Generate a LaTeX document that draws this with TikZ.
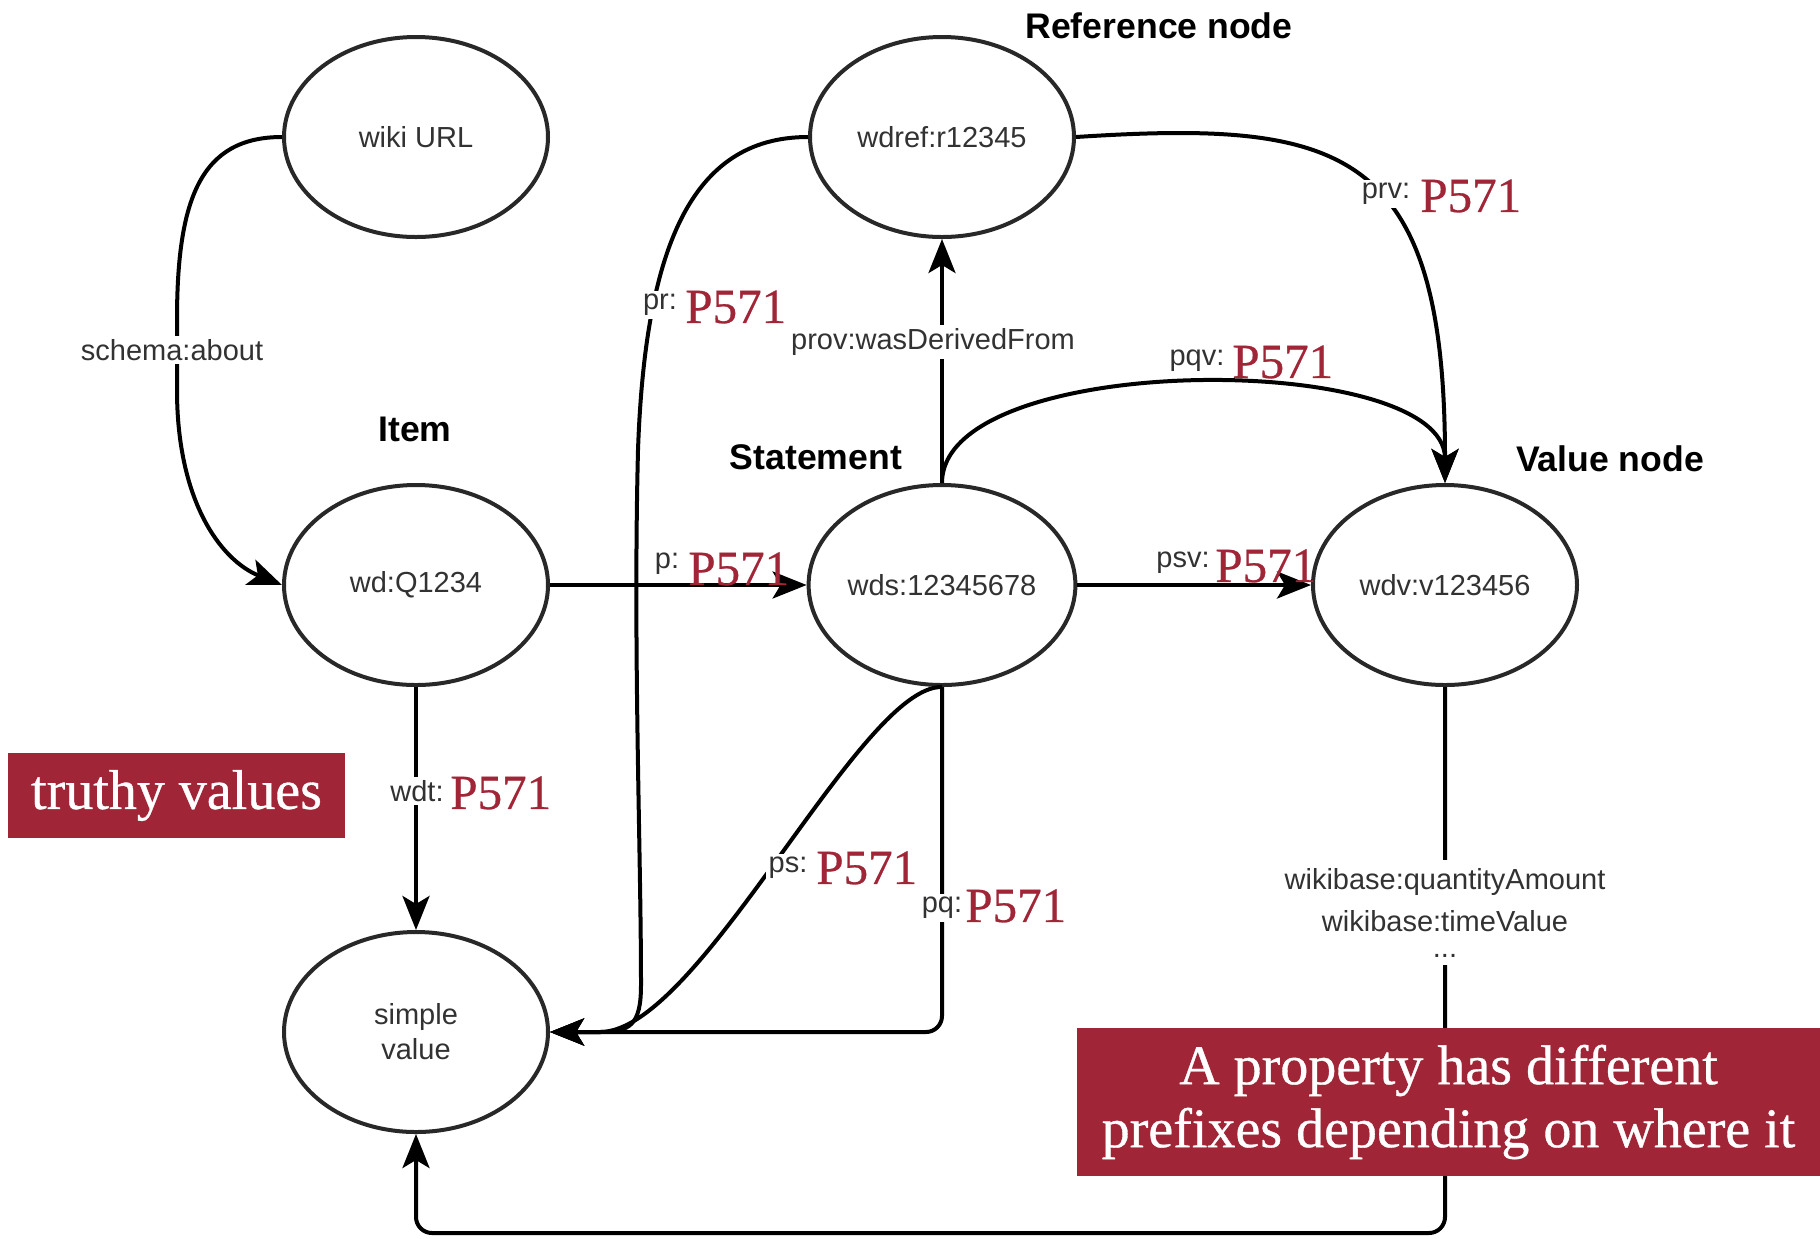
\documentclass[tikz,border=0pt]{standalone}
\usepackage{fontspec}
\setmainfont{Liberation Sans}
\newfontfamily\serifred[FakeBold=0.6]{Liberation Serif}
\usetikzlibrary{arrows.meta,shapes.geometric}
\definecolor{wred}{RGB}{160,37,55}
\definecolor{tgray}{RGB}{50,50,50}
\definecolor{ellgray}{RGB}{40,40,40}
\begin{document}
\begin{tikzpicture}[x=0.5pt,y=-0.5pt,
  ell/.style={ellipse, draw=ellgray, line width=2pt, minimum width=132pt, minimum height=100pt,
    inner sep=0pt, text=tgray, font=\fontsize{14.5}{17.5}\selectfont, align=center},
  title/.style={font=\bfseries\fontsize{17.8}{20}\selectfont, text=black},
  glab/.style={fill=white, inner sep=1.5pt, text=tgray, font=\fontsize{14.5}{17}\selectfont},
  pnum/.style={text=wred, font=\serifred\fontsize{24.5}{28}\selectfont, inner sep=0pt, anchor=west},
  arr/.style={line width=2pt, -{Stealth[length=17pt,width=13.5pt,inset=4pt]}},
  redbox/.style={fill=wred, text=white, font=\serifred\fontsize{28}{31.5}\selectfont, inner sep=0pt, align=center}
]
\fill[white] (0,0) rectangle (1820,1238);
\useasboundingbox (0,0) rectangle (1820,1238);

% nodes
\node[ell] (url) at (416,137) {wiki URL};
\node[ell] (ref) at (942,137) {wdref:r12345};
\node[ell] (item) at (416,585) {wd:Q1234};
\node[ell] (stmt) at (942,585) {wds:12345678};
\node[ell] (val) at (1445,585) {wdv:v123456};
\node[ell] (simple) at (416,1032) {simple\\value};

% titles
\node[title] (tref) at (1159,26) {Reference node};
\node[title] (titem) at (415,429) {Item};
\node[title] (tstmt) at (816,457) {Statement};
\node[title] (tval) at (1610,459) {Value node};

% connectors
\draw[arr] (url.west) .. controls (200,137) and (177,200) .. (177,320) -- (177,390)
   .. controls (177,500) and (220,560) .. (item.west);
\draw[arr] (item) -- (stmt);
\draw[arr] (stmt) -- (val);
\draw[arr] (stmt) -- (ref);
\draw[arr] (stmt.north) .. controls (942,350) and (1445,350) .. (val.north);
\draw[arr] (ref.east) .. controls (1340,120) and (1445,145) .. (val.north);
\draw[arr] (ref.west) .. controls (690,137) and (645,250) .. (638,450)
   .. controls (633,650) and (641,850) .. (641,985)
   .. controls (641,1025) and (630,1032) .. (600,1032) -- (simple.east);
\draw[arr] (stmt.south) .. controls (860,685) and (700,1032) .. (600,1032) -- (simple.east);
\draw[arr, rounded corners=8pt] (stmt.south) -- (942,1032) -- (simple.east);
\draw[arr] (item) -- (simple);
\draw[arr, rounded corners=8pt] (val.south) -- (1445,1233) -- (416,1233) -- (simple.south);

% gray labels
\node[glab] (lschema) at (172,350) {schema:about};
\node[glab] (lprov) at (933,342) {prov:wasDerivedFrom};
\node[glab] (lpr) at (660,305) {pr:};
\node[glab] (lprv) at (1386,194) {prv:};
\node[glab] (lpqv) at (1197,361) {pqv:};
\node[glab] (lp) at (667,564) {p:};
\node[glab] (lpsv) at (1183,563) {psv:};
\node[glab] (lwdt) at (417,791) {wdt:};
\node[glab] (lps) at (788,868) {ps:};
\node[glab] (lpq) at (942,908) {pq:};
\node[glab, align=center, anchor=north, inner ysep=4pt, font=\fontsize{14.5}{21}\selectfont] (lwb) at (1445,860)
  {wikibase:quantityAmount\\wikibase:timeValue\\[-8pt]...};

% red property ids
\node[pnum] (npr) at (685,307) {P571};
\node[pnum] (nprv) at (1420,196) {P571};
\node[pnum] (npqv) at (1232,362) {P571};
\node[pnum] (np) at (688,569) {P571};
\node[pnum] (npsv) at (1215,566) {P571};
\node[pnum] (nwdt) at (450,793) {P571};
\node[pnum] (nps) at (816,868) {P571};
\node[pnum] (npq) at (965,906) {P571};

% red boxes
\node[redbox, minimum width=168.5pt, minimum height=42.5pt] (truthy) at (176.5,795.5) {truthy values};
\node[redbox, minimum width=371.5pt, minimum height=74pt] (note) at (1448.5,1102)
  {A property has different\\prefixes depending on where it};
\end{tikzpicture}
\end{document}
